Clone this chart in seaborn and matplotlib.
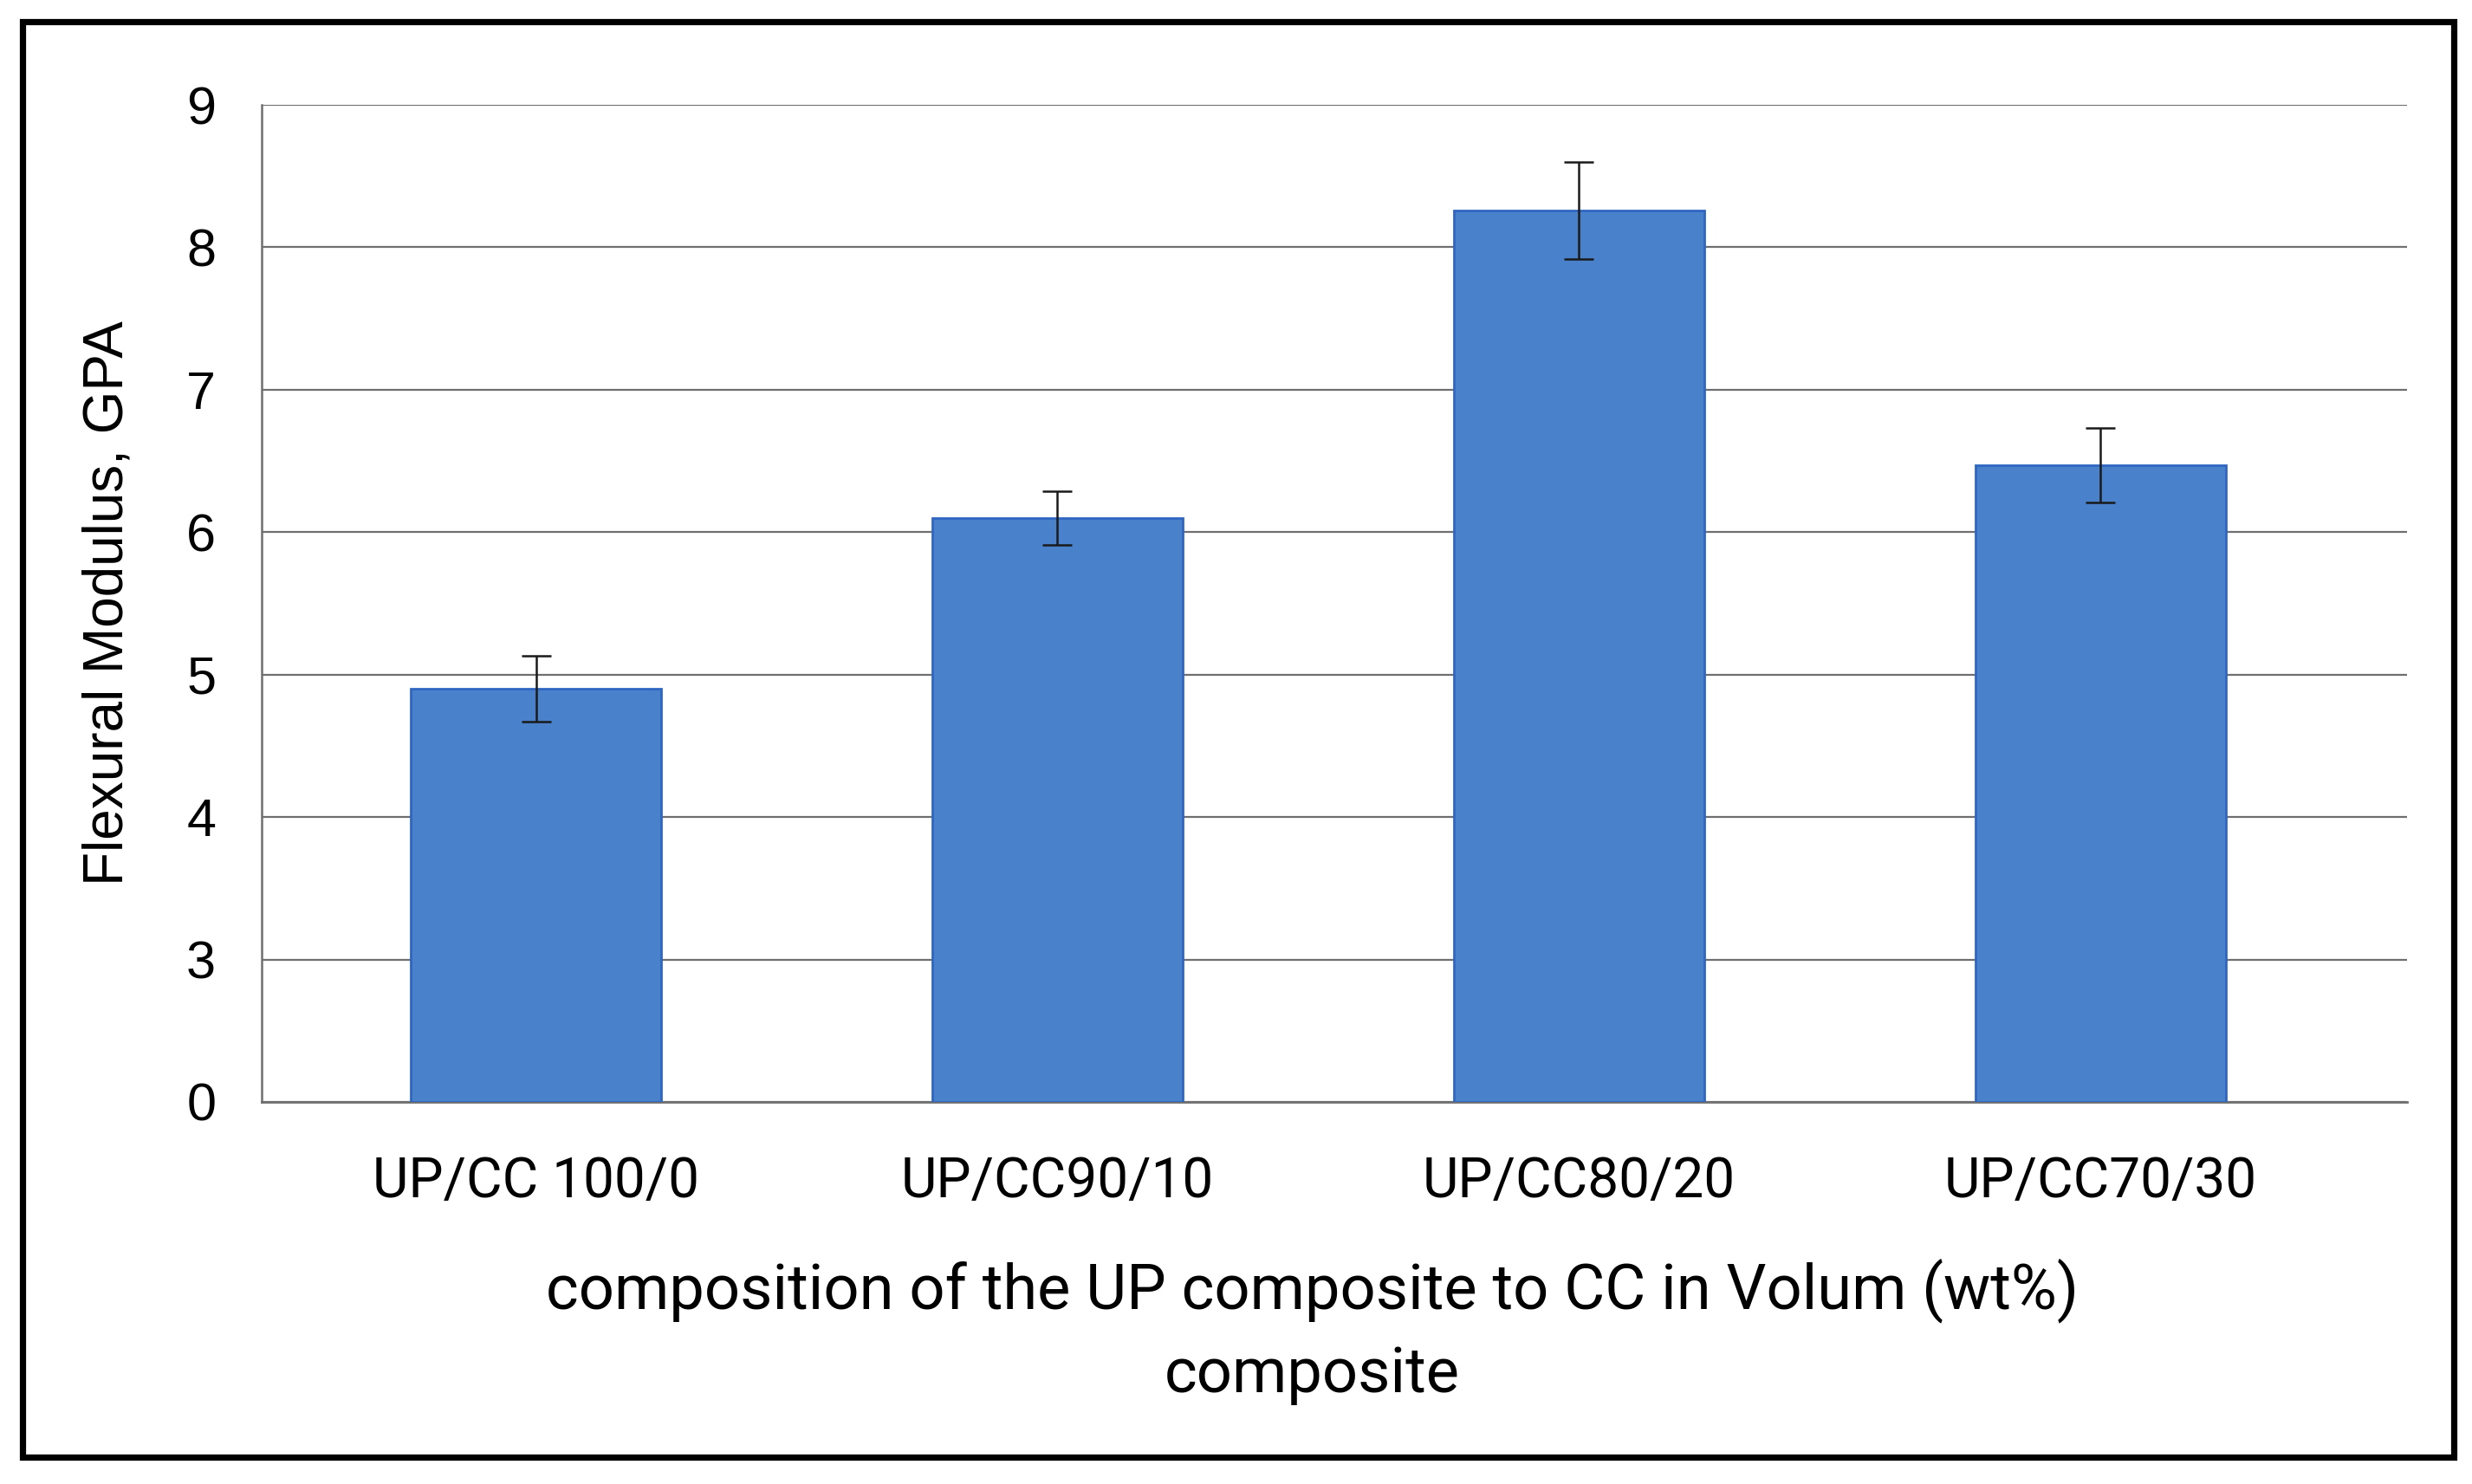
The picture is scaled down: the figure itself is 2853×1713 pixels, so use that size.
import numpy as np
import pandas as pd
import matplotlib
matplotlib.use("Agg")
import matplotlib.pyplot as plt
from matplotlib.patches import Rectangle
import seaborn as sns

# ---- data ----
categories = ["UP/CC 100/0", "UP/CC90/10", "UP/CC80/20", "UP/CC70/30"]
modulus = [4.90, 6.10, 8.26, 6.47]
modulus_err = [0.23, 0.19, 0.34, 0.26]
ytick_values = [0, 3, 4, 5, 6, 7, 8, 9]
ylabel_text = "Flexural Modulus, GPA"
xlabel_text = "composition of the UP composite to CC in Volum (wt%)\ncomposite"

sns.set_theme(style="white")
plt.rcParams["font.family"] = ["Liberation Sans", "DejaVu Sans"]

W, H, DPI = 2853, 1713, 200
fig = plt.figure(figsize=(W / DPI, H / DPI), dpi=DPI)
fig.patch.set_facecolor("white")

# axes placement (pixel-derived)
ax_l, ax_r, ax_t, ax_b = 302, 2778, 121, 1272
ax = fig.add_axes([ax_l / W, 1 - ax_b / H, (ax_r - ax_l) / W, (ax_b - ax_t) / H])

df = pd.DataFrame({"composition": categories, "modulus": modulus})
sns.barplot(data=df, x="composition", y="modulus", order=categories,
            color="#4A81CB", saturation=1, width=0.48, errorbar=None,
            edgecolor="#2F66C2", linewidth=1.0, ax=ax, zorder=3)

# compressed (broken) lower segment of the y axis: 0..3 takes one tick step
def fwd(v):
    v = np.asarray(v, dtype=float)
    return np.where(v <= 3, v / 3.0, v - 2.0)

def inv(u):
    u = np.asarray(u, dtype=float)
    return np.where(u <= 1, u * 3.0, u + 2.0)

ax.set_yscale("function", functions=(fwd, inv))
ax.set_ylim(0, 9)
ax.set_yticks(ytick_values)
ax.set_yticklabels([str(v) for v in ytick_values])
ax.yaxis.set_minor_locator(matplotlib.ticker.NullLocator())

xpos = np.arange(len(categories))
ax.errorbar(xpos, modulus, yerr=modulus_err, fmt="none", ecolor="#1a1a1a",
            elinewidth=0.9, capsize=6, capthick=0.9, zorder=4)

ax.set_xlim(-0.526, 3.588)

# grid & spines
ax.grid(axis="y", color="#6f6f6f", linewidth=0.8, zorder=0)
ax.grid(axis="x", visible=False)
for s in ["top", "right"]:
    ax.spines[s].set_visible(False)
ax.spines["left"].set_color("#6f6f6f")
ax.spines["left"].set_linewidth(0.9)
ax.spines["bottom"].set_color("#6f6f6f")
ax.spines["bottom"].set_linewidth(1.0)

ax.tick_params(axis="y", length=0, pad=19, labelsize=22, labelcolor="black")
ax.tick_params(axis="x", length=0, pad=22, labelsize=23, labelcolor="black")
for lab in ax.get_xticklabels():
    lab.set_family(["Roboto", "DejaVu Sans"])

ax.set_ylabel(ylabel_text, fontsize=23, color="black", va="center", ha="center")
ax.yaxis.set_label_coords((125 - ax_l) / (ax_r - ax_l), 0.5)

# baseline alignment of a two-line label anchors its last line
ax.set_xlabel(xlabel_text, fontsize=26, color="black", family=["Roboto", "DejaVu Sans"],
              va="baseline", ha="center", linespacing=1.48)
ax.xaxis.set_label_coords((1514 - ax_l) / (ax_r - ax_l), -(1607 - ax_b) / (ax_b - ax_t))

# outer black frame
bl, bt, br, bb = 26, 25, 2832, 1682
fig.patches.append(Rectangle((bl / W, 1 - bb / H), (br - bl) / W, (bb - bt) / H,
                             transform=fig.transFigure, fill=False,
                             edgecolor="black", linewidth=2.6, zorder=10))

fig.savefig("out.png", dpi=DPI, facecolor="white")
